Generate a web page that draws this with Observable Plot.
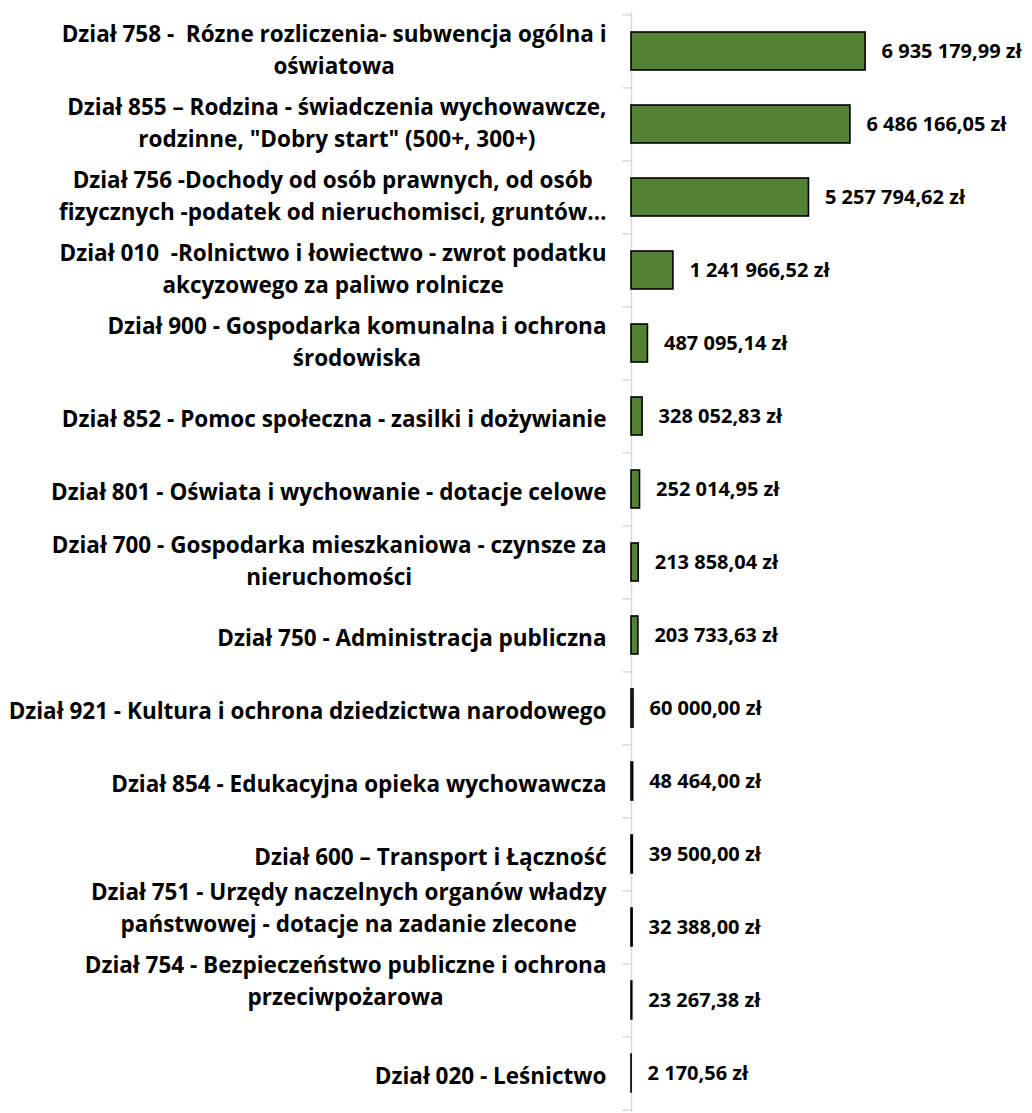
<!DOCTYPE html>
<html><head><meta charset="utf-8">
<script src="https://cdn.jsdelivr.net/npm/d3@7"></script>
<script src="https://cdn.jsdelivr.net/npm/@observablehq/plot@0.6"></script>
<style>body{margin:0;background:#fff;} svg text{white-space:pre;}</style>
</head><body><div id="chart"></div>
<script>
const categories = [
  "Dział 758 -  Rózne rozliczenia- subwencja ogólna i\noświatowa",
  "Dział 855 – Rodzina - świadczenia wychowawcze,\nrodzinne, \"Dobry start\" (500+, 300+)",
  "Dział 756 -Dochody od osób prawnych, od osób\nfizycznych -podatek od nieruchomisci, gruntów…",
  "Dział 010  -Rolnictwo i łowiectwo - zwrot podatku\nakcyzowego za paliwo rolnicze",
  "Dział 900 - Gospodarka komunalna i ochrona\nśrodowiska",
  "Dział 852 - Pomoc społeczna - zasilki i dożywianie",
  "Dział 801 - Oświata i wychowanie - dotacje celowe",
  "Dział 700 - Gospodarka mieszkaniowa - czynsze za\nnieruchomości",
  "Dział 750 - Administracja publiczna",
  "Dział 921 - Kultura i ochrona dziedzictwa narodowego",
  "Dział 854 - Edukacyjna opieka wychowawcza",
  "Dział 600 – Transport i Łączność",
  "Dział 751 - Urzędy naczelnych organów władzy\npaństwowej - dotacje na zadanie zlecone",
  "Dział 754 - Bezpieczeństwo publiczne i ochrona\nprzeciwpożarowa",
  "Dział 020 - Leśnictwo"
];
const values = [6935179.99, 6486166.05, 5257794.62, 1241966.52, 487095.14, 328052.83,
  252014.95, 213858.04, 203733.63, 60000.00, 48464.00, 39500.00, 32388.00, 23267.38, 2170.56];

const data = categories.map((c, i) => ({cat: c, value: values[i]}));
const fmt = v => {
  const [i, d] = v.toFixed(2).split(".");
  return i.replace(/\B(?=(\d{3})+(?!\d))/g, " ") + "," + d + " zł";
};

const H = 1113, MT = 12, MB = 1;
const step = (H - MT - MB) / categories.length;

const chart = Plot.plot({
  width: 1032, height: H,
  marginTop: MT, marginBottom: MB, marginLeft: 631, marginRight: 131,
  style: {fontFamily: "'Open Sans', Lato, sans-serif", color: "#000", background: "#fff"},
  x: {domain: [0, 8000000], axis: null},
  y: {domain: categories, paddingInner: 0.48, paddingOuter: 0.24, axis: null},
  marks: [
    Plot.ruleX([0], {stroke: "#d9d9d9", strokeWidth: 1.5}),
    Plot.ruleY(categories, {y: d => d, x1: -260000, x2: 0, dy: -step / 2, stroke: "#d9d9d9", strokeWidth: 1.5}),
    Plot.ruleY(categories.slice(-1), {y: d => d, x1: -260000, x2: 0, dy: step / 2, stroke: "#d9d9d9", strokeWidth: 1.5}),
    Plot.barX(data, {x: "value", y: "cat", fill: "#548235", stroke: "#000", strokeWidth: 1.6}),
    Plot.text(data, {x: "value", y: "cat", text: d => fmt(d.value), textAnchor: "start", dx: 16,
      fontSize: 20, fontWeight: "bold", fill: "#000"}),
    Plot.axisY({tickSize: 0, tickPadding: 25, fontSize: 22.5, fontWeight: "bold", lineHeight: 1.46, fill: "#000", label: null})
  ]
});
document.getElementById("chart").appendChild(chart);

// Excel-style wrapped category labels: lines centred on each other; the two
// labels near the bottom sit higher than their bands, as in the original.
const raised = new Set([categories[12], categories[13]]);
chart.querySelectorAll('g[aria-label="y-axis tick label"] text').forEach((t, i) => {
  const spans = t.querySelectorAll("tspan");
  if (spans.length < 2) return;
  let W = 0;
  spans.forEach(s => { W = Math.max(W, s.getComputedTextLength()); });
  t.setAttribute("text-anchor", "middle");
  spans.forEach(s => s.setAttribute("x", -W / 2));
  const shift = raised.has(categories[i]) ? -22 : -4;
  t.setAttribute("transform", (t.getAttribute("transform") || "") + ` translate(0,${shift})`);
});
</script>
</body></html>
